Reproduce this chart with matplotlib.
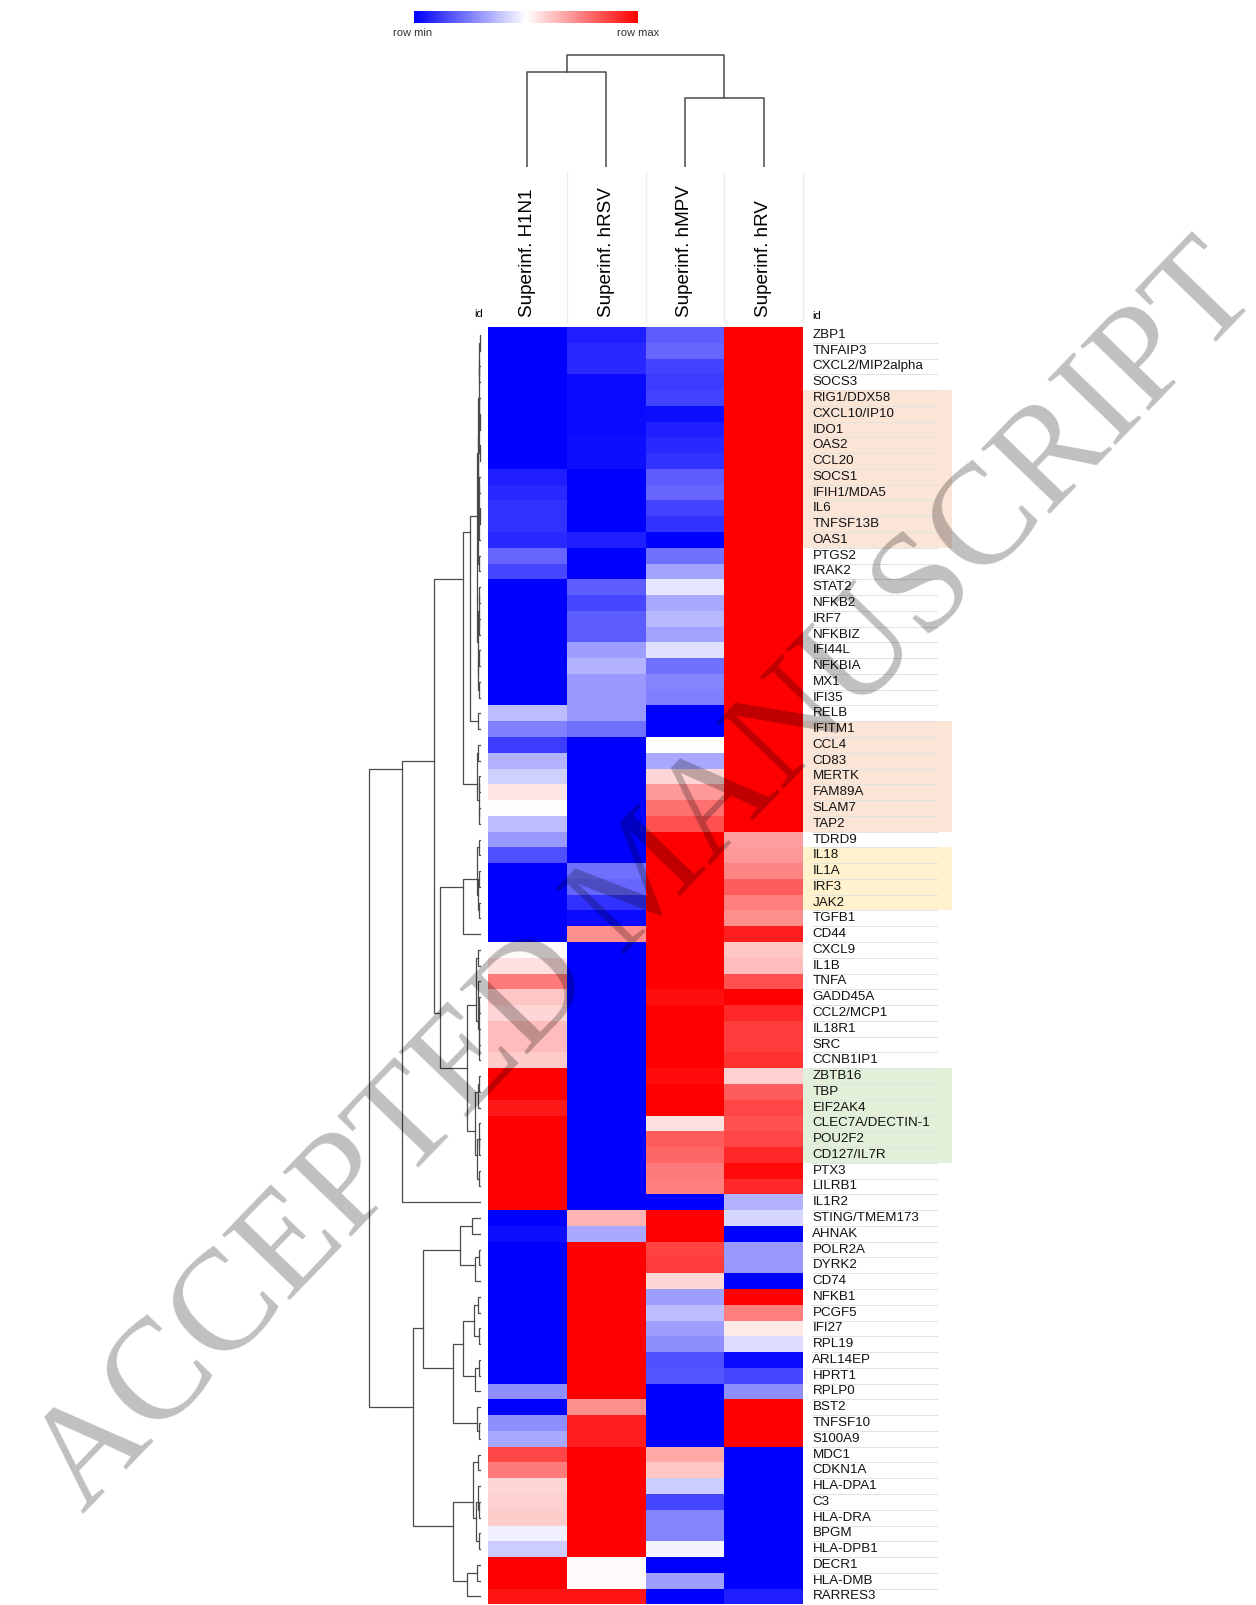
import matplotlib
matplotlib.use('Agg')
import matplotlib.pyplot as plt
import numpy as np
from matplotlib.colors import LinearSegmentedColormap
from matplotlib.patches import Rectangle
from matplotlib.lines import Line2D
from matplotlib.transforms import blended_transform_factory as blend

plt.rcParams['font.family'] = ['Liberation Sans', 'DejaVu Sans']

samples = ['Superinf. H1N1', 'Superinf. hRSV', 'Superinf. hMPV', 'Superinf. hRV']

genes = ['ZBP1', 'TNFAIP3', 'CXCL2/MIP2alpha', 'SOCS3', 'RIG1/DDX58', 'CXCL10/IP10',
         'IDO1', 'OAS2', 'CCL20', 'SOCS1', 'IFIH1/MDA5', 'IL6', 'TNFSF13B', 'OAS1',
         'PTGS2', 'IRAK2', 'STAT2', 'NFKB2', 'IRF7', 'NFKBIZ', 'IFI44L', 'NFKBIA',
         'MX1', 'IFI35', 'RELB', 'IFITM1', 'CCL4', 'CD83', 'MERTK', 'FAM89A', 'SLAM7',
         'TAP2', 'TDRD9', 'IL18', 'IL1A', 'IRF3', 'JAK2', 'TGFB1', 'CD44', 'CXCL9',
         'IL1B', 'TNFA', 'GADD45A', 'CCL2/MCP1', 'IL18R1', 'SRC', 'CCNB1IP1', 'ZBTB16',
         'TBP', 'EIF2AK4', 'CLEC7A/DECTIN-1', 'POU2F2', 'CD127/IL7R', 'PTX3', 'LILRB1',
         'IL1R2', 'STING/TMEM173', 'AHNAK', 'POLR2A', 'DYRK2', 'CD74', 'NFKB1', 'PCGF5',
         'IFI27', 'RPL19', 'ARL14EP', 'HPRT1', 'RPLP0', 'BST2', 'TNFSF10', 'S100A9',
         'MDC1', 'CDKN1A', 'HLA-DPA1', 'C3', 'HLA-DRA', 'BPGM', 'HLA-DPB1', 'DECR1',
         'HLA-DMB', 'RARRES3']

# row-scaled expression (0 = row min, 1 = row max)
h1n1 = [0, 0, 0, 0, 0, 0, 0, 0, 0, 0.06, 0.08, 0.1, 0.1, 0.08, 0.2, 0.14, 0, 0, 0, 0,
        0, 0, 0, 0, 0.37, 0.25, 0.12, 0.35, 0.41, 0.55, 0.5, 0.37, 0.3, 0.16, 0, 0,
        0, 0, 0, 0.51, 0.56, 0.76, 0.61, 0.58, 0.63, 0.63, 0.6, 1, 1, 0.95, 1, 1, 1,
        1, 1, 1, 0, 0.03, 0, 0, 0, 0, 0, 0, 0, 0, 0, 0.28, 0, 0.28, 0.33, 0.86, 0.76,
        0.58, 0.59, 0.6, 0.47, 0.4, 1, 1, 0.96]
hrsv = [0.06, 0.08, 0.08, 0.02, 0.02, 0.02, 0.02, 0.03, 0.03, 0, 0, 0, 0, 0.06, 0, 0,
        0.18, 0.14, 0.18, 0.18, 0.31, 0.35, 0.3, 0.3, 0.3, 0.22, 0, 0, 0, 0, 0, 0, 0,
        0, 0.22, 0.2, 0.1, 0.02, 0.72, 0, 0, 0, 0, 0, 0, 0, 0, 0, 0, 0, 0, 0, 0, 0, 0,
        0, 0.65, 0.33, 1, 1, 1, 1, 1, 1, 1, 1, 1, 1, 0.72, 0.94, 0.94, 1, 1, 1, 1, 1,
        1, 1, 0.51, 0.51, 0.96]
hmpv = [0.18, 0.2, 0.13, 0.12, 0.13, 0.03, 0.06, 0.08, 0.1, 0.18, 0.2, 0.13, 0.1, 0,
        0.22, 0.32, 0.45, 0.33, 0.36, 0.32, 0.44, 0.22, 0.26, 0.25, 0, 0, 0.5, 0.33,
        0.58, 0.7, 0.78, 0.84, 1, 1, 1, 1, 1, 1, 1, 1, 1, 1, 0.97, 1, 1, 1, 1, 0.98, 1,
        1, 0.56, 0.82, 0.8, 0.76, 0.75, 0, 1, 1, 0.87, 0.88, 0.58, 0.31, 0.37, 0.31,
        0.28, 0.16, 0.17, 0, 0, 0, 0, 0.67, 0.61, 0.4, 0.14, 0.26, 0.26, 0.48, 0, 0.31, 0]
hrv = [1, 1, 1, 1, 1, 1, 1, 1, 1, 1, 1, 1, 1, 1, 1, 1, 1, 1, 1, 1, 1, 1, 1, 1, 1, 1, 1,
       1, 1, 1, 1, 1, 0.69, 0.7, 0.74, 0.82, 0.75, 0.72, 0.94, 0.61, 0.63, 0.84, 1, 0.92,
       0.88, 0.88, 0.9, 0.59, 0.82, 0.86, 0.84, 0.86, 0.92, 0.98, 0.92, 0.35, 0.42, 0,
       0.3, 0.3, 0, 1, 0.75, 0.54, 0.43, 0.02, 0.14, 0.28, 1, 1, 1, 0, 0, 0, 0, 0, 0, 0,
       0, 0, 0.06]

# highlighted label blocks (first gene, last gene, colour)
highlights = [('RIG1/DDX58', 'OAS1', '#FBE5D6'), ('IFITM1', 'TAP2', '#FBE5D6'),
              ('IL18', 'JAK2', '#FFF2CC'), ('ZBTB16', 'CD127/IL7R', '#E2F0D9')]

# row dendrogram: (first row, last row, last row of upper child, merge height)
row_links = [
    (1, 81, 56, 1.11), (1, 56, 55, 0.78), (1, 55, 32, 0.46), (1, 32, 26, 0.17),
    (1, 26, 24, 0.10), (25, 26, 25, 0.02), (1, 24, 16, 0.03), (1, 16, 14, 0.025),
    (15, 16, 15, 0.01), (1, 14, 9, 0.018), (1, 9, 4, 0.014), (1, 4, 2, 0.01),
    (1, 2, 1, 0.005), (3, 4, 3, 0.006), (5, 9, 7, 0.008), (5, 7, 5, 0.006),
    (6, 7, 6, 0.004), (8, 9, 8, 0.005), (10, 14, 11, 0.012), (10, 11, 10, 0.006),
    (12, 14, 13, 0.008), (12, 13, 12, 0.004), (17, 24, 20, 0.025), (17, 20, 18, 0.015),
    (17, 18, 17, 0.01), (19, 20, 19, 0.008), (21, 24, 22, 0.02), (21, 22, 21, 0.012),
    (23, 24, 23, 0.006), (27, 32, 28, 0.03), (27, 28, 27, 0.02), (29, 32, 30, 0.015),
    (29, 30, 29, 0.008), (31, 32, 31, 0.01), (33, 55, 39, 0.40), (33, 39, 38, 0.17),
    (33, 38, 34, 0.035), (33, 34, 33, 0.015), (35, 38, 36, 0.02), (35, 36, 35, 0.01),
    (37, 38, 37, 0.012), (40, 55, 47, 0.13), (40, 47, 41, 0.04), (40, 41, 40, 0.02),
    (42, 47, 42, 0.025), (43, 47, 44, 0.015), (43, 44, 43, 0.01), (45, 47, 45, 0.01),
    (46, 47, 46, 0.006), (48, 55, 50, 0.05), (48, 50, 49, 0.025), (48, 49, 48, 0.015),
    (51, 55, 53, 0.03), (51, 53, 51, 0.015), (52, 53, 52, 0.01), (54, 55, 54, 0.01),
    (57, 81, 71, 0.67), (57, 71, 61, 0.57), (57, 61, 58, 0.20), (57, 58, 57, 0.08),
    (59, 61, 60, 0.05), (59, 60, 59, 0.015), (62, 71, 68, 0.27), (62, 68, 65, 0.17),
    (62, 65, 63, 0.06), (62, 63, 62, 0.025), (64, 65, 64, 0.015), (66, 68, 67, 0.05),
    (66, 67, 66, 0.015), (69, 71, 69, 0.03), (70, 71, 70, 0.01), (72, 81, 78, 0.27),
    (72, 78, 73, 0.07), (72, 73, 72, 0.025), (74, 78, 76, 0.04), (74, 76, 74, 0.025),
    (75, 76, 75, 0.01), (77, 78, 77, 0.015), (79, 81, 80, 0.13), (79, 80, 79, 0.03),
]

# column dendrogram: (left cols, right cols, merge height)
col_links = [((0,), (1,), 0.95), ((2,), (3,), 0.69), ((0, 1), (2, 3), 1.12)]

W, H = 1256, 1605
fig = plt.figure(figsize=(W / 100, H / 100), dpi=100)


def px_axes(x0, y0, x1, y1):
    return fig.add_axes([x0 / W, 1 - y1 / H, (x1 - x0) / W, (y1 - y0) / H])


cmap = LinearSegmentedColormap.from_list('rowminmax', ['#0000ff', '#ffffff', '#ff0000'])
n = len(genes)
row_h = 15.77
top = 327
bottom = top + n * row_h
dcol = '#4a4a4a'

# heatmap
ax = px_axes(488, top, 803, bottom)
data = np.column_stack([h1n1, hrsv, hmpv, hrv])
ax.pcolormesh(np.arange(5), np.arange(n + 1), data, cmap=cmap, vmin=0, vmax=1)
ax.set_xlim(0, 4)
ax.set_ylim(n, 0)
ax.axis('off')

# gene labels, separators and coloured blocks
lab = blend(ax.transAxes, ax.transData)
for i, g in enumerate(genes):
    ax.text(1.03, i + 0.5, g, transform=lab, ha='left', va='center', fontsize=9.6,
            color='#111111', clip_on=False)
    if i < n - 1:
        ax.add_line(Line2D([1.028, 1.425], [i + 1, i + 1], transform=lab,
                           color='#e2e2e2', lw=0.7, clip_on=False, zorder=1))
for g0, g1, c in highlights:
    a, b = genes.index(g0), genes.index(g1)
    ax.add_patch(Rectangle((1.0, a), 0.473, b - a + 1, transform=lab, facecolor=c,
                           edgecolor='none', clip_on=False, zorder=0))

# column labels
colt = blend(ax.transData, fig.transFigure)
for j, s in enumerate(samples):
    ax.text(j + 0.5, 1 - 317 / H, s, transform=colt, rotation=90, ha='center',
            va='bottom', fontsize=13.6, clip_on=False)
    ax.add_line(Line2D([j + 1, j + 1], [1 - 172 / H, 1 - 322 / H], transform=colt,
                       color='#ececec', lw=1, clip_on=False))
fig.text(483 / W, 1 - 317 / H, 'id', ha='right', va='baseline', fontsize=8)
fig.text(812 / W, 1 - 319 / H, 'id', ha='left', va='baseline', fontsize=8)

# row dendrogram
axd = px_axes(360, top, 488, bottom)
heights = {(a, b): h for a, b, s, h in row_links}


def rpos(a, b):
    return (a + b) / 2 - 0.5


for a, b, s, h in row_links:
    c1, c2 = (a, s), (s + 1, b)
    h1 = heights[c1] if c1[0] != c1[1] else 0
    h2 = heights[c2] if c2[0] != c2[1] else 0
    y1, y2 = rpos(*c1), rpos(*c2)
    axd.plot([h1, h, h, h2], [y1, y1, y2, y2], color=dcol, lw=0.9,
             solid_joinstyle='miter')
axd.set_xlim(1.20, -0.08)
axd.set_ylim(n, 0)
axd.axis('off')

# column dendrogram
axc = px_axes(488, 40, 803, 167)
cheights = {}
for left, right, h in col_links:
    xl, xr = np.mean(left) + 0.5, np.mean(right) + 0.5
    hl, hr = cheights.get(left, 0), cheights.get(right, 0)
    axc.plot([xl, xl, xr, xr], [hl, h, h, hr], color=dcol, lw=1.1)
    cheights[left + right] = h
axc.set_xlim(0, 4)
axc.set_ylim(0, 1.27)
axc.axis('off')

# colour key
axk = px_axes(414, 11, 638, 23)
axk.imshow(np.linspace(0, 1, 256)[None, :], aspect='auto', cmap=cmap)
axk.axis('off')
fig.text(413 / W, 1 - 33 / H, 'row min', ha='center', va='center', fontsize=8,
         color='#333333')
fig.text(638 / W, 1 - 33 / H, 'row max', ha='center', va='center', fontsize=8,
         color='#333333')

# watermark
fig.text(648 / W, 1 - 880 / H, 'ACCEPTED MANUSCRIPT', rotation=46, rotation_mode='anchor',
         ha='center', va='center', fontsize=103, family='Liberation Serif',
         color='black', alpha=0.25, zorder=10)

fig.savefig('out.png', dpi=100)
